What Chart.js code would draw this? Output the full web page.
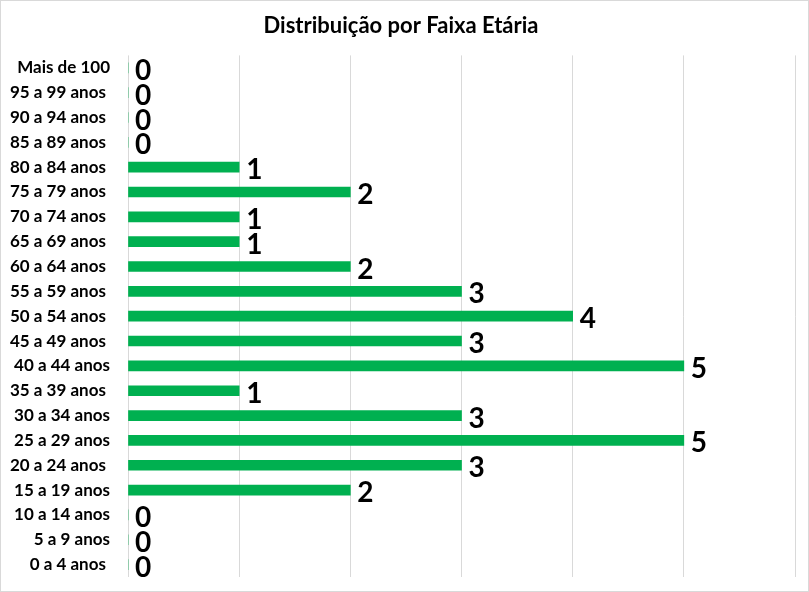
<!DOCTYPE html>
<html>
<head>
<meta charset="utf-8">
<script src="https://cdn.jsdelivr.net/npm/chart.js@4"></script>
<style>
  html, body { margin: 0; padding: 0; background: #fff; }
  #wrap { width: 809px; height: 592px; box-sizing: border-box; border: 1px solid #d9d9d9; position: relative; }
  canvas { display: block; }
</style>
</head>
<body>
<div id="wrap"><canvas id="chart" width="807" height="590"></canvas></div>
<script>
// faixas etárias, de cima para baixo
const faixas = [
  'Mais de 100', '95 a 99 anos ', '90 a 94 anos ', '85 a 89 anos ', '80 a 84 anos ',
  '75 a 79 anos ', '70 a 74 anos ', '65 a 69 anos ', '60 a 64 anos ', '55 a 59 anos ',
  '50 a 54 anos ', '45 a 49 anos ', '40 a 44 anos', '35 a 39 anos ', '30 a 34 anos',
  '25 a 29 anos', '20 a 24 anos ', '15 a 19 anos', '10 a 14 anos', '5 a 9 anos', '0 a 4 anos '
];
const quantidades = [0, 0, 0, 0, 1, 2, 1, 1, 2, 3, 4, 3, 5, 1, 3, 5, 3, 2, 0, 0, 0];
const eixoMin = 0, eixoMax = 6, eixoPasso = 1;

// rótulos de valor ao lado de cada barra
const valueLabels = {
  id: 'valueLabels',
  afterDatasetsDraw(chart) {
    const ctx = chart.ctx;
    const meta = chart.getDatasetMeta(0);
    ctx.save();
    ctx.font = 'bold 28px Lato, "Open Sans", sans-serif';
    ctx.fillStyle = '#000';
    ctx.textBaseline = 'middle';
    ctx.textAlign = 'left';
    meta.data.forEach((bar, i) => {
      ctx.fillText(String(quantidades[i]), bar.x + 7, bar.y + 3);
    });
    ctx.restore();
  }
};

new Chart(document.getElementById('chart'), {
  type: 'bar',
  data: {
    labels: faixas,
    datasets: [{
      data: quantidades,
      backgroundColor: '#00b050',
      borderWidth: 0,
      barThickness: 10
    }]
  },
  options: {
    indexAxis: 'y',
    responsive: false,
    animation: false,
    layout: { padding: { left: 6, right: 13, top: 0, bottom: 14 } },
    plugins: {
      legend: { display: false },
      tooltip: { enabled: false },
      title: {
        display: true,
        text: 'Distribuição por Faixa Etária',
        color: '#000',
        font: { family: 'Lato, "Open Sans", sans-serif', size: 22, weight: 'bold' },
        padding: { top: 12, bottom: 16 }
      }
    },
    scales: {
      x: {
        min: eixoMin,
        max: eixoMax,
        ticks: { display: false, stepSize: eixoPasso },
        grid: { color: '#d9d9d9', drawTicks: false },
        border: { display: false }
      },
      y: {
        grid: { display: false, drawTicks: false },
        border: { display: false },
        ticks: {
          color: '#000',
          padding: 18,
          autoSkip: false,
          font: { family: 'Lato, "Open Sans", sans-serif', size: 17, weight: 'bold' }
        },
        afterFit(scale) {
          scale.width = 121;
          scale.paddingTop = 0;
          scale.paddingBottom = 0;
        }
      }
    }
  },
  plugins: [valueLabels]
});
</script>
</body>
</html>
